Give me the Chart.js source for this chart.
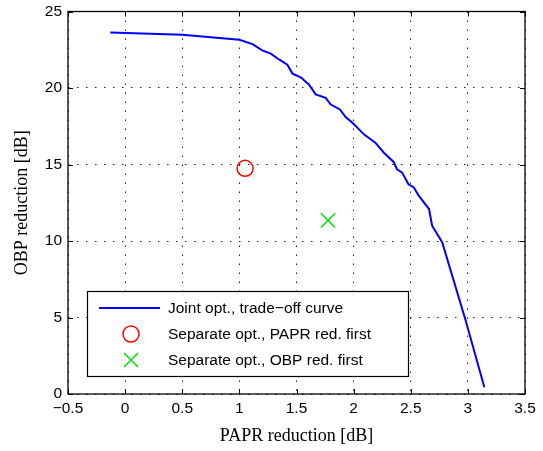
<!DOCTYPE html>
<html>
<head>
<meta charset="utf-8">
<script src="https://cdn.jsdelivr.net/npm/chart.js@4"></script>
<style>
  html, body { margin: 0; padding: 0; background: #fff; }
  #wrap { width: 543px; height: 451px; }
</style>
</head>
<body>
<div id="wrap"><canvas id="c"></canvas></div>
<script>
// trade-off curve (PAPR reduction, OBP reduction)
const curveX = [-0.13, 0.5, 1.0, 1.115, 1.2, 1.275, 1.35, 1.42, 1.465, 1.537, 1.61, 1.668, 1.755, 1.8, 1.88, 1.93, 1.99, 2.09, 2.19, 2.265, 2.35, 2.38, 2.425, 2.48, 2.527, 2.57, 2.66, 2.687, 2.775, 2.98, 3.144];
const curveY = [23.63, 23.48, 23.15, 22.87, 22.46, 22.25, 21.85, 21.52, 20.94, 20.7, 20.22, 19.58, 19.36, 18.92, 18.6, 18.1, 17.73, 16.97, 16.43, 15.77, 15.17, 14.69, 14.47, 13.71, 13.5, 12.96, 12.09, 11.0, 9.92, 4.82, 0.44];
const paprFirst = [1.05, 14.75];
const obpFirst = [1.776, 11.35];
const xTicks = [-0.5, 0, 0.5, 1, 1.5, 2, 2.5, 3, 3.5];
const yTicks = [0, 5, 10, 15, 20, 25];
const seriesNames = ['Joint opt., trade\u2212off curve', 'Separate opt., PAPR red. first', 'Separate opt., OBP red. first'];

const tickFont = { family: 'Liberation Sans, Arial, sans-serif', size: 15.5 };
const fmt = v => (v < 0 ? '\u2212' + Math.abs(v) : String(v));

// MATLAB-style inward ticks plus the in-plot legend box
const matlabBits = {
    id: 'matlabBits',
    afterDraw(chart) {
        const { ctx, chartArea: a, scales } = chart;
        ctx.save();
        ctx.strokeStyle = '#000';
        ctx.lineWidth = 1;
        ctx.beginPath();
        xTicks.forEach(t => {
            const px = Math.round(scales.x.getPixelForValue(t)) + 0.5;
            ctx.moveTo(px, a.bottom); ctx.lineTo(px, a.bottom - 5);
            ctx.moveTo(px, a.top); ctx.lineTo(px, a.top + 5);
        });
        yTicks.forEach(t => {
            const py = Math.round(scales.y.getPixelForValue(t)) + 0.5;
            ctx.moveTo(a.left, py); ctx.lineTo(a.left + 5, py);
            ctx.moveTo(a.right, py); ctx.lineTo(a.right - 5, py);
        });
        ctx.stroke();
        ctx.lineWidth = 1.3;
        ctx.strokeRect(a.left, a.top, a.right - a.left, a.bottom - a.top);

        // legend
        const lx = 87, ly = 291, lw = 321, lh = 85;
        ctx.fillStyle = '#fff';
        ctx.fillRect(lx, ly, lw, lh);
        ctx.lineWidth = 1.2;
        ctx.strokeStyle = '#000';
        ctx.strokeRect(lx + 0.5, ly + 0.5, lw, lh);
        ctx.font = '15.5px Liberation Sans, Arial, sans-serif';
        ctx.textBaseline = 'middle';
        ctx.fillStyle = '#000';
        const rows = [ly + 17, ly + 43, ly + 69];
        const sym = lx + 44;
        ctx.strokeStyle = '#0000ff'; ctx.lineWidth = 2;
        ctx.beginPath(); ctx.moveTo(lx + 12, rows[0]); ctx.lineTo(lx + 73, rows[0]); ctx.stroke();
        ctx.strokeStyle = '#ff0000'; ctx.lineWidth = 1.5;
        ctx.beginPath(); ctx.arc(sym, rows[1], 8, 0, Math.PI * 2); ctx.stroke();
        ctx.strokeStyle = '#00e000';
        ctx.beginPath();
        ctx.moveTo(sym - 7, rows[2] - 7); ctx.lineTo(sym + 7, rows[2] + 7);
        ctx.moveTo(sym + 7, rows[2] - 7); ctx.lineTo(sym - 7, rows[2] + 7);
        ctx.stroke();
        seriesNames.forEach((s, i) => ctx.fillText(s, lx + 81, rows[i] + 1));
        ctx.restore();
    }
};

new Chart(document.getElementById('c'), {
    type: 'scatter',
    data: {
        datasets: [{
            label: seriesNames[0],
            data: curveX.map((x, i) => ({ x, y: curveY[i] })),
            showLine: true,
            borderColor: '#0000ff',
            borderWidth: 2,
            pointRadius: 0,
            tension: 0
        }, {
            label: seriesNames[1],
            data: [{ x: paprFirst[0], y: paprFirst[1] }],
            pointStyle: 'circle',
            pointRadius: 8,
            borderColor: '#ff0000',
            backgroundColor: 'rgba(0,0,0,0)',
            borderWidth: 1.5
        }, {
            label: seriesNames[2],
            data: [{ x: obpFirst[0], y: obpFirst[1] }],
            pointStyle: 'crossRot',
            pointRadius: 10,
            borderColor: '#00e000',
            borderWidth: 1.5
        }]
    },
    options: {
        responsive: true,
        maintainAspectRatio: false,
        animation: false,
        layout: { padding: { top: 9, right: 18, left: 0, bottom: 0 } },
        plugins: { legend: { display: false }, tooltip: { enabled: false } },
        scales: {
            x: {
                type: 'linear',
                min: -0.5, max: 3.5,
                afterBuildTicks: s => { s.ticks = xTicks.map(v => ({ value: v })); },
                afterFit: s => { s.height = 57; s.paddingRight = 0; },
                grid: { color: '#222', lineWidth: 1, drawTicks: false },
                border: { display: false, dash: [1.5, 7.5] },
                ticks: { color: '#000', font: tickFont, padding: 5, callback: fmt, maxRotation: 0 },
                title: { display: true, text: 'PAPR reduction [dB]', color: '#000', font: { family: 'Liberation Serif, Times New Roman, serif', size: 18 }, padding: { top: 2 } }
            },
            y: {
                type: 'linear',
                min: 0, max: 25,
                afterBuildTicks: s => { s.ticks = yTicks.map(v => ({ value: v })); },
                afterFit: s => { s.width = 68; s.paddingTop = 0; s.paddingBottom = 0; },
                grid: { color: '#222', lineWidth: 1, drawTicks: false },
                border: { display: false, dash: [1.5, 7.5] },
                ticks: { color: '#000', font: tickFont, padding: 6 },
                title: { display: true, text: 'OBP reduction [dB]', color: '#000', font: { family: 'Liberation Serif, Times New Roman, serif', size: 18 }, padding: { top: 11, bottom: 0 } }
            }
        }
    },
    plugins: [matlabBits]
});
</script>
</body>
</html>
